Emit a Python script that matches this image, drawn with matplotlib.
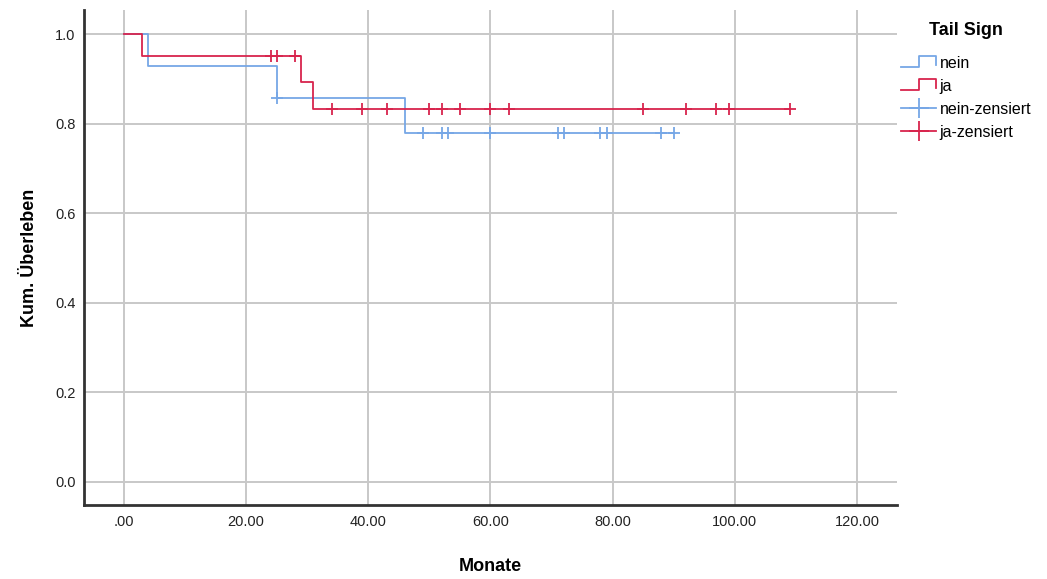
import matplotlib

matplotlib.use("Agg")
import matplotlib.pyplot as plt
import numpy as np
from matplotlib.legend_handler import HandlerBase
from matplotlib.lines import Line2D

plt.rcParams["font.family"] = ["Liberation Sans", "DejaVu Sans"]

BLUE, RED = "#76a7e6", "#d8244d"

# Kaplan-Meier steps (Monate -> Kum. Überleben)
nein_times = [0, 4, 25, 46, 90]
nein_surv = [1.0, 0.929, 0.857, 0.779, 0.779]
nein_cens = [25, 49, 52, 53, 60, 71, 72, 78, 79, 88, 90]

ja_times = [0, 3, 29, 31, 109]
ja_surv = [1.0, 0.952, 0.893, 0.833, 0.833]
ja_cens = [24, 25, 28, 34, 39, 43, 50, 52, 55, 60, 63, 85, 92, 97, 99, 109]

x_ticks = [0, 20, 40, 60, 80, 100, 120]
x_labels = [".00", "20.00", "40.00", "60.00", "80.00", "100.00", "120.00"]
y_ticks = [0.0, 0.2, 0.4, 0.6, 0.8, 1.0]


def surv_at(times, surv, t):
    idx = np.searchsorted(times, t, side="right") - 1
    return np.asarray(surv)[idx]


class StepHandler(HandlerBase):
    def create_artists(self, legend, orig_handle, xdescent, ydescent,
                       width, height, fontsize, trans):
        lo, hi = -ydescent + 0.05 * height, -ydescent + 1.05 * height
        x0 = -xdescent
        xs = [x0, x0 + 0.5 * width, x0 + 0.5 * width, x0 + width, x0 + width]
        ys = [lo, lo, hi, hi, lo + 0.15 * height]
        ln = Line2D(xs, ys, color=orig_handle.get_color(), lw=1.3, transform=trans)
        return [ln]


fig = plt.figure(figsize=(10.47, 5.79), dpi=100)
ax = fig.add_axes([0.0802, 0.127, 0.7765, 0.8556])

ax.step(nein_times, nein_surv, where="post", color=BLUE, lw=1.3)
ax.step(ja_times, ja_surv, where="post", color=RED, lw=1.3)
ax.plot(nein_cens, surv_at(nein_times, nein_surv, nein_cens), ls="none",
        marker="+", ms=8, mew=1.3, color=BLUE)
ax.plot(ja_cens, surv_at(ja_times, ja_surv, ja_cens), ls="none",
        marker="+", ms=8, mew=1.3, color=RED)

ax.set_xlim(-6.55, 126.55)
ax.set_ylim(-0.0525, 1.0536)
ax.set_xticks(x_ticks)
ax.set_xticklabels(x_labels)
ax.set_yticks(y_ticks)
ax.set_yticklabels([f"{v:.1f}" for v in y_ticks])
ax.tick_params(length=0, labelsize=10.5, colors="#222222", pad=7)
ax.tick_params(axis="y", pad=6)
ax.grid(True, color="#c8c8c8", lw=1.4)
ax.set_axisbelow(True)
for s in ("top", "right"):
    ax.spines[s].set_visible(False)
for s in ("left", "bottom"):
    ax.spines[s].set_color("#333333")
    ax.spines[s].set_linewidth(2)

ax.set_xlabel("Monate", fontsize=13, fontweight="bold", labelpad=21)
ax.set_ylabel("Kum. Überleben", fontsize=13, fontweight="bold", labelpad=12)

h_nein = Line2D([], [], color=BLUE)
h_ja = Line2D([], [], color=RED)
h_nc = Line2D([], [], color=BLUE, marker="+", ms=15, mew=1.3, lw=1.3)
h_jc = Line2D([], [], color=RED, marker="+", ms=15, mew=1.3, lw=1.3)
leg = fig.legend([h_nein, h_ja, h_nc, h_jc], ["nein", "ja", "nein-zensiert", "ja-zensiert"],
                 loc="upper left", bbox_to_anchor=(0.847, 0.987), frameon=False,
                 fontsize=11.5, title="Tail Sign", handlelength=2.2, handletextpad=0.2,
                 labelspacing=0.5,
                 handler_map={h_nein: StepHandler(), h_ja: StepHandler()})
leg.get_title().set_fontweight("bold")
leg.get_title().set_fontsize(13)
leg._legend_box.sep = 12

fig.savefig("out.png", dpi=100)
